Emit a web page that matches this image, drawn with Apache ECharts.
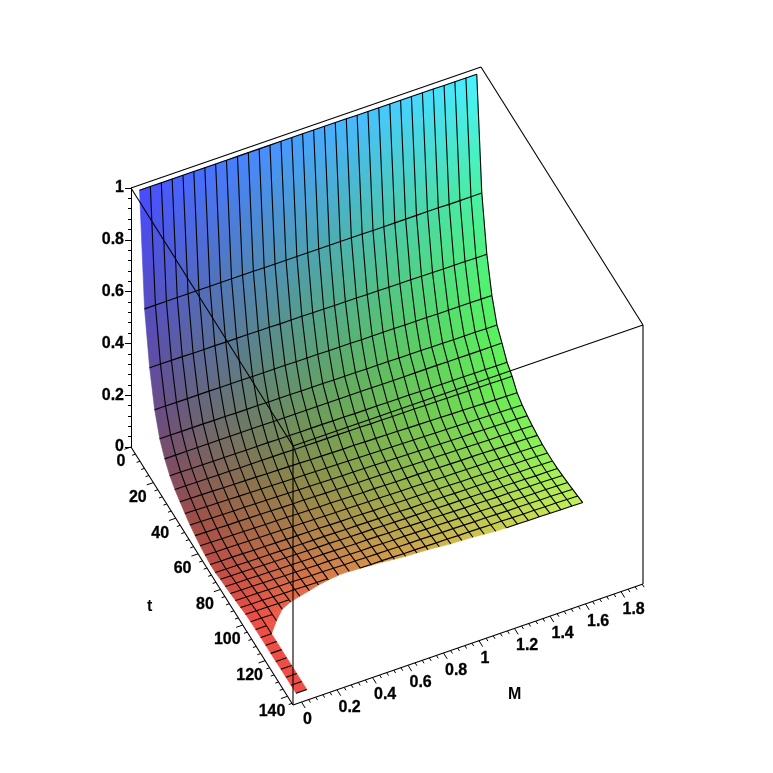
<!DOCTYPE html>
<html><head><meta charset="utf-8">
<style>html,body{margin:0;padding:0;background:#fff}#c{width:773px;height:773px}</style>
<script src="https://cdn.jsdelivr.net/npm/echarts@6/dist/echarts.min.js"></script>
</head><body><div id="c"></div>
<script>
const M_VALUES=[0,.061,.123,.184,.245,.306,.368,.429,.490,.552,.613,.674,.735,.797,.858,.919,.981,1.042,1.103,1.165,1.226,1.287,1.348,1.410,1.471,1.532,1.594,1.655,1.716,1.777,1.839,1.9];
const T_VALUES=[0,4.52,9.03,13.55,18.06,22.58,27.1,31.61,36.13,40.65,45.16,49.68,54.19,58.71,63.23,67.74,72.26,76.77,81.29,85.81,90.32,94.84,99.35,103.87,108.39,112.9,117.42,121.94,126.45,130.97,135.48,140];
const Z_R0=[.98,.98,.98,.98,.98,.98,.98,.98,.98,.98,.98,.98,.98,.98,.98,.98,.98,.98,.98,.98,.979,.979,.979,.979,.979,.979,.979,.979,.978,.978,.978,.978];
const Z_R1=[.553,.553,.553,.553,.553,.553,.553,.553,.553,.553,.553,.552,.552,.552,.552,.552,.552,.552,.552,.552,.552,.551,.551,.551,.551,.551,.551,.551,.550,.550,.550,.550];
const Z_R2=[.357,.357,.356,.356,.355,.355,.355,.354,.354,.354,.353,.353,.352,.352,.352,.351,.351,.350,.350,.350,.349,.349,.348,.348,.348,.347,.347,.346,.346,.346,.345,.345];
const Z_R3=[.226,.226,.225,.225,.225,.225,.224,.224,.224,.223,.223,.223,.223,.222,.222,.222,.221,.221,.221,.220,.220,.220,.220,.219,.219,.219,.218,.218,.218,.218,.217,.217];
const Z_R4=[.145,.145,.144,.144,.144,.143,.143,.142,.142,.142,.141,.141,.141,.140,.140,.140,.139,.139,.139,.138,.138,.138,.137,.137,.137,.136,.136,.135,.135,.135,.134,.134];
const Z_R5=[.098,.098,.098,.098,.098,.098,.098,.098,.098,.098,.097,.097,.097,.097,.097,.097,.097,.097,.097,.097,.096,.096,.096,.096,.096,.096,.095,.095,.095,.095,.095,.095];
const Z_R6=[.064,.064,.063,.063,.062,.062,.062,.061,.061,.061,.060,.060,.059,.059,.059,.058,.058,.057,.057,.057,.056,.056,.056,.055,.055,.054,.054,.054,.053,.053,.052,.052];
const Z_R7=[.042,.042,.041,.041,.040,.040,.039,.039,.039,.038,.038,.037,.037,.036,.036,.036,.035,.035,.034,.034,.033,.033,.033,.032,.032,.031,.031,.030,.030,.030,.029,.029];
const Z_R8=[.026,.025,.024,.023,.022,.021,.020,.019,.018,.017,.016,.015,.014,.013,.012,.011,.011,.010,.009,.008,.007,.006,.005,.004,.003,.002,.001,.000,-.001,-.002,-.003,-.004];
const Z_R9=[.011,.010,.009,.008,.007,.006,.005,.004,.003,.002,.001,.000,-.001,-.002,-.003,-.004,-.005,-.006,-.007,-.008,-.009,-.010,-.011,-.012,-.013,-.014,-.015,-.016,-.017,-.018,-.019,-.020];
const Z_R10=[-.002,-.003,-.004,-.005,-.006,-.006,-.007,-.008,-.009,-.010,-.011,-.012,-.013,-.014,-.015,-.015,-.016,-.017,-.018,-.019,-.020,-.021,-.022,-.023,-.024,-.025,-.025,-.026,-.027,-.028,-.029,-.030];
const Z_R11=[-.012,-.013,-.014,-.015,-.015,-.016,-.017,-.018,-.019,-.020,-.020,-.021,-.022,-.023,-.024,-.025,-.025,-.026,-.027,-.028,-.029,-.030,-.030,-.031,-.032,-.033,-.034,-.035,-.035,-.036,-.037,-.038];
const Z_R12=[-.020,-.021,-.022,-.022,-.023,-.024,-.025,-.025,-.026,-.027,-.028,-.029,-.029,-.030,-.031,-.032,-.032,-.033,-.034,-.035,-.035,-.036,-.037,-.038,-.039,-.039,-.040,-.041,-.042,-.042,-.043,-.044];
const Z_R13=[-.026,-.027,-.027,-.028,-.029,-.030,-.030,-.031,-.032,-.032,-.033,-.034,-.035,-.035,-.036,-.037,-.037,-.038,-.039,-.039,-.040,-.041,-.042,-.042,-.043,-.044,-.044,-.045,-.046,-.046,-.047,-.048];
const Z_R14=[-.030,-.031,-.031,-.032,-.033,-.033,-.034,-.035,-.035,-.036,-.036,-.037,-.038,-.038,-.039,-.040,-.040,-.041,-.042,-.042,-.043,-.043,-.044,-.045,-.045,-.046,-.047,-.047,-.048,-.048,-.049,-.050];
const Z_R15=[-.030,-.031,-.031,-.032,-.033,-.033,-.034,-.035,-.035,-.036,-.036,-.037,-.038,-.038,-.039,-.040,-.040,-.041,-.042,-.042,-.043,-.043,-.044,-.045,-.045,-.046,-.047,-.047,-.048,-.048,-.049,-.050];
const Z_R16=[-.025,-.026,-.026,-.027,-.028,-.029,-.029,-.030,-.031,-.032,-.032,-.033,-.034,-.035,-.035,-.036,-.037,-.038,-.038,-.039,-.040,-.041,-.041,-.042,-.043,-.044,-.044,-.045,-.046,-.047,-.047,-.048];
const Z_R17=[-.022,-.023,-.023,-.024,-.025,-.026,-.026,-.027,-.028,-.028,-.029,-.030,-.031,-.031,-.032,-.033,-.033,-.034,-.035,-.035,-.036,-.037,-.038,-.038,-.039,-.040,-.040,-.041,-.042,-.042,-.043,-.044];
const Z_R18=[-.018,-.019,-.019,-.020,-.021,-.022,-.022,-.023,-.024,-.024,-.025,-.026,-.027,-.027,-.028,-.029,-.029,-.030,-.031,-.031,-.032,-.033,-.034,-.034,-.035,-.036,-.036,-.037,-.038,-.038,-.039,-.040];
const Z_R19=[-.014,-.015,-.015,-.016,-.017,-.017,-.018,-.019,-.019,-.020,-.021,-.021,-.022,-.023,-.023,-.024,-.025,-.025,-.026,-.027,-.027,-.028,-.029,-.029,-.030,-.031,-.031,-.032,-.033,-.033,-.034,-.035];
const Z_R20=[-.010,-.011,-.011,-.012,-.013,-.013,-.014,-.015,-.015,-.016,-.016,-.017,-.018,-.018,-.019,-.020,-.020,-.021,-.022,-.022,-.023,-.023,-.024,-.025,-.025,-.026,-.027,-.027,-.028,-.028,-.029,-.030];
const Z_R21=[-.005,-.006,-.006,-.007,-.007,-.008,-.009,-.009,-.010,-.011,-.011,-.012,-.012,-.013,-.014,-.014,-.015,-.015,-.016,-.017,-.017,-.018,-.018,-.019,-.020,-.020,-.021,-.021,-.022,-.023,-.023,-.024];
const Z_R22=[-.003,-.003,-.004,-.004,-.005,-.005];
const Z_R23=[-.002,-.002,-.003,-.003];
const Z_R24=[-.002,-.002,-.002];
const Z_R25=[-.001,-.001];
const Z_R26=[-.001,-.001];
const Z_R27=[-.001,-.001];
const Z_R28=[0,0];
const Z_R29=[0,0];
const Z_R30=[0,0];
const Z_R31=[0,0];
const Z_ROWS=[Z_R0,Z_R1,Z_R2,Z_R3,Z_R4,Z_R5,Z_R6,Z_R7,Z_R8,Z_R9,Z_R10,Z_R11,Z_R12,Z_R13,Z_R14,Z_R15,Z_R16,Z_R17,Z_R18,Z_R19,Z_R20,Z_R21,Z_R22,Z_R23,Z_R24,Z_R25,Z_R26,Z_R27,Z_R28,Z_R29,Z_R30,Z_R31];
// last t reached by the surface in each column (first two columns: the thin strip runs to 140)
const SURFACE_END_T=[140,108.4,103,98.4,96.2,94.8,93.5,92.1,91.2,90.3,90.3,90.5,90.8,91.2,91.7,92.1,92.4,92.6,93,93.5,93.7,93.9,94.4,94.8,94.84,94.84,94.84,94.84,94.84,94.84,94.84,94.84];
const STRIP_END_T=140;
const M_TICK_LABELS=[0,0.2,0.4,0.6,0.8,1,1.2,1.4,1.6,1.8];
const M_MINOR_TICKS=[.04,.08,.12,.16,.24,.28,.32,.36,.44,.48,.52,.56,.64,.68,.72,.76,.84,.88,.92,.96,1.04,1.08,1.12,1.16,1.24,1.28,1.32,1.36,1.44,1.48,1.52,1.56,1.64,1.68,1.72,1.76,1.84,1.88,1.92];
const T_TICK_LABELS=[0,20,40,60,80,100,120,140];
const T_MINOR_TICKS=[4,8,12,16,24,28,32,36,44,48,52,56,64,68,72,76,84,88,92,96,104,108,112,116,124,128,132,136,144];
const M_MIN=-0.048,M_MAX=1.924,T_MIN=0,T_MAX=144.9,Z_MIN=0,Z_MAX=1;
const BOX_EDGES=[
 [[M_MIN,T_MIN,Z_MAX],[M_MAX,T_MIN,Z_MAX]],[[M_MAX,T_MIN,Z_MAX],[M_MAX,T_MAX,Z_MAX]],
 [[M_MAX,T_MAX,Z_MAX],[M_MIN,T_MAX,Z_MAX]],[[M_MIN,T_MAX,Z_MAX],[M_MIN,T_MIN,Z_MAX]],
 [[M_MIN,T_MAX,Z_MAX],[M_MIN,T_MAX,Z_MIN]],[[M_MAX,T_MAX,Z_MAX],[M_MAX,T_MAX,Z_MIN]],
 [[M_MIN,T_MIN,Z_MIN],[M_MIN,T_MAX,Z_MIN]],[[M_MIN,T_MAX,Z_MIN],[M_MAX,T_MAX,Z_MIN]]
];
const FONT='bold 16px "Liberation Sans", Arial, sans-serif';

// oblique view of the (M,t,z) box on the plane
const O=[131,447],UM=[350/(M_MAX-M_MIN),-121/(M_MAX-M_MIN)],UT=[162/T_MAX,258/T_MAX],UZ=-259;
function plane(M,t,z){return [O[0]+(M-M_MIN)*UM[0]+t*UT[0],O[1]+(M-M_MIN)*UM[1]+t*UT[1]+z*UZ];}
function clamp(v,hi){return Math.max(0,Math.min(hi||255,Math.round(v)));}
function colour(M,t,z){
  const a=M/1.9,g=Math.pow(Math.min(t,100)/95,0.8+0.45*a);
  const w=Math.max(0,z)/0.98;
  const r=72+(162-38*a)*g;
  const gr=74+168*Math.pow(a,0.9);
  const b=70+185*Math.pow(w,0.72+0.6*a)+16*a*(1-w);
  return 'rgb('+clamp(r,238)+','+clamp(gr)+','+clamp(b)+')';
}
function endAt(col,frac){
  if(col===0) return STRIP_END_T;
  return SURFACE_END_T[col]+(SURFACE_END_T[col+1]-SURFACE_END_T[col])*frac;
}
function clipCell(i,j){
  const m0=M_VALUES[j],m1=M_VALUES[j+1],t0=T_VALUES[i],t1=T_VALUES[i+1];
  const c=[[m0,t0,Z_ROWS[i][j]],[m1,t0,Z_ROWS[i][j+1]],[m1,t1,Z_ROWS[i+1][j+1]],[m0,t1,Z_ROWS[i+1][j]]];
  const f=p=>endAt(j,(p[0]-m0)/(m1-m0))-p[1];
  const out=[];
  for(let k=0;k<4;k++){
    const p=c[k],q=c[(k+1)%4],fp=f(p),fq=f(q);
    if(fp>=0) out.push(p);
    if((fp>=0)!==(fq>=0)){const s=fp/(fp-fq);out.push([p[0]+(q[0]-p[0])*s,p[1]+(q[1]-p[1])*s,p[2]+(q[2]-p[2])*s]);}
  }
  return out;
}
const CELLS=[];
for(let i=0;i<T_VALUES.length-1;i++)for(let j=0;j<M_VALUES.length-1;j++){
  if(Z_ROWS[i+1][j+1]!==undefined&&Z_ROWS[i][j+1]!==undefined) CELLS.push([i,j]);
}
const toPx=(api,p)=>api.coord(plane(p[0],p[1],p[2]));
function renderCell(params,api){
  const i=api.value(0),j=api.value(1);
  const poly=clipCell(i,j);
  if(poly.length<3) return null;
  const pts=poly.map(p=>toPx(api,p));
  const mM=(M_VALUES[j]+M_VALUES[j+1])/2;
  const z0=(Z_ROWS[i][j]+Z_ROWS[i][j+1])/2,z1=(Z_ROWS[i+1][j]+Z_ROWS[i+1][j+1])/2;
  const a=toPx(api,[mM,T_VALUES[i],z0]),b=toPx(api,[mM,T_VALUES[i+1],z1]);
  const n=[0.327,0.945],d=(b[0]-a[0])*n[0]+(b[1]-a[1])*n[1];
  const grad=new echarts.graphic.LinearGradient(a[0],a[1],a[0]+n[0]*d,a[1]+n[1]*d,[
    {offset:0,color:colour(mM,T_VALUES[i],z0)},{offset:1,color:colour(mM,T_VALUES[i+1],z1)}],true);
  return {type:'polygon',shape:{points:pts},style:{fill:grad,stroke:grad,lineWidth:0.6}};
}
// grid lines: constant t (index 0) and constant M (index 1)
const WIRES=[];
T_VALUES.forEach((_,i)=>WIRES.push([0,i]));
M_VALUES.forEach((_,j)=>{if(j>0)WIRES.push([1,j]);});
function renderWire(params,api){
  const kind=api.value(0),n=api.value(1);
  const groups=[];let cur=[];
  if(kind===0){
    const t=T_VALUES[n],row=Z_ROWS[n];
    for(let j=0;j<row.length;j++){
      const e=j===0?STRIP_END_T:(n>24&&j===1?STRIP_END_T:SURFACE_END_T[j]);
      if(t<=e+0.01){cur.push(toPx(api,[M_VALUES[j],t,row[j]]));}
      else{if(cur.length>1)groups.push(cur);cur=[];}
    }
    if(cur.length>1)groups.push(cur);
  }else{
    const e=SURFACE_END_T[n];
    for(let i=0;i<T_VALUES.length;i++){
      const z=Z_ROWS[i][n];
      if(z===undefined) break;
      if(T_VALUES[i]<=e){cur.push(toPx(api,[M_VALUES[n],T_VALUES[i],z]));}
      else{
        const z0=Z_ROWS[i-1][n],s=(e-T_VALUES[i-1])/(T_VALUES[i]-T_VALUES[i-1]);
        cur.push(toPx(api,[M_VALUES[n],e,z0+(z-z0)*s]));break;
      }
    }
    if(cur.length>1)groups.push(cur);
  }
  return {type:'group',children:groups.map(g=>({type:'polyline',shape:{points:g},style:{fill:'none',stroke:'#000',lineWidth:1.1}}))};
}
function renderBox(params,api){
  const e=BOX_EDGES[params.dataIndex];
  return {type:'line',shape:{x1:api.coord(plane(...e[0]))[0],y1:api.coord(plane(...e[0]))[1],x2:api.coord(plane(...e[1]))[0],y2:api.coord(plane(...e[1]))[1]},style:{stroke:'#000',lineWidth:1.1}};
}
function renderMTick(params,api){
  const M=api.value(0),major=api.value(1)===1;
  const a=api.coord(plane(M,T_MAX,0)),len=major?7:3.5;
  const kids=[{type:'line',shape:{x1:a[0],y1:a[1],x2:a[0]+len*0.53,y2:a[1]+len*0.85},style:{stroke:'#000',lineWidth:1}}];
  if(major)kids.push({type:'text',style:{text:String(M),x:a[0]+1.5,y:a[1]+17.5,font:FONT,fill:'#000',stroke:'#000',lineWidth:0.3,align:'left',verticalAlign:'middle'}});
  return {type:'group',children:kids};
}
function renderTTick(params,api){
  const t=api.value(0),major=api.value(1)===1;
  const a=api.coord(plane(M_MIN,t,0)),len=major?7:3.5;
  const kids=[{type:'line',shape:{x1:a[0],y1:a[1],x2:a[0]-len*0.945,y2:a[1]+len*0.327},style:{stroke:'#000',lineWidth:1}}];
  if(major)kids.push({type:'text',style:{text:String(t),x:a[0]+(t===0?-10:-15.5),y:a[1]+15,font:FONT,fill:'#000',stroke:'#000',lineWidth:0.3,align:'center',verticalAlign:'middle'}});
  return {type:'group',children:kids};
}
const base={type:'custom',coordinateSystem:'cartesian2d',xAxisIndex:0,yAxisIndex:0,silent:true,animation:false,clip:false,progressive:0};
const chart=echarts.init(document.getElementById('c'),null,{renderer:'canvas'});
chart.setOption({
  animation:false,backgroundColor:'#fff',
  grid:[{left:0,top:0,width:773,height:773},{left:131,top:188,width:350,height:259}],
  xAxis:[{type:'value',min:0,max:773,show:false,gridIndex:0},{type:'value',min:0,max:1,show:false,gridIndex:1}],
  yAxis:[{type:'value',min:0,max:773,inverse:true,show:false,gridIndex:0},
    {type:'value',gridIndex:1,min:Z_MIN,max:Z_MAX,interval:0.2,position:'left',
     axisLine:{show:true,onZero:false,lineStyle:{color:'#000',width:1}},
     axisTick:{show:true,length:6,lineStyle:{color:'#000'}},
     minorTick:{show:true,splitNumber:5,length:3,lineStyle:{color:'#000'}},
     splitLine:{show:false},minorSplitLine:{show:false},
     axisLabel:{show:true,margin:7,color:'#000',fontSize:16,fontWeight:'bold',textBorderColor:'#000',textBorderWidth:0.3,fontFamily:'"Liberation Sans", Arial, sans-serif',showMinLabel:true,showMaxLabel:true,hideOverlap:false}}],
  graphic:[
    {type:'text',left:508,top:687,z:50,style:{text:'M',font:FONT,fill:'#000'}},
    {type:'text',left:147,top:599,z:50,style:{text:'t',font:FONT,fill:'#000'}}
  ],
  series:[
    Object.assign({},base,{name:'surface',z:2,data:CELLS,renderItem:renderCell}),
    Object.assign({},base,{name:'grid lines',z:3,data:WIRES,renderItem:renderWire}),
    Object.assign({},base,{name:'box',z:4,data:BOX_EDGES.map((_,k)=>[k]),renderItem:renderBox}),
    Object.assign({},base,{name:'M axis',z:5,data:M_TICK_LABELS.map(v=>[v,1]).concat(M_MINOR_TICKS.map(v=>[v,0])),renderItem:renderMTick}),
    Object.assign({},base,{name:'t axis',z:5,data:T_TICK_LABELS.map(v=>[v,1]).concat(T_MINOR_TICKS.map(v=>[v,0])),renderItem:renderTTick})
  ]
});
</script></body></html>
